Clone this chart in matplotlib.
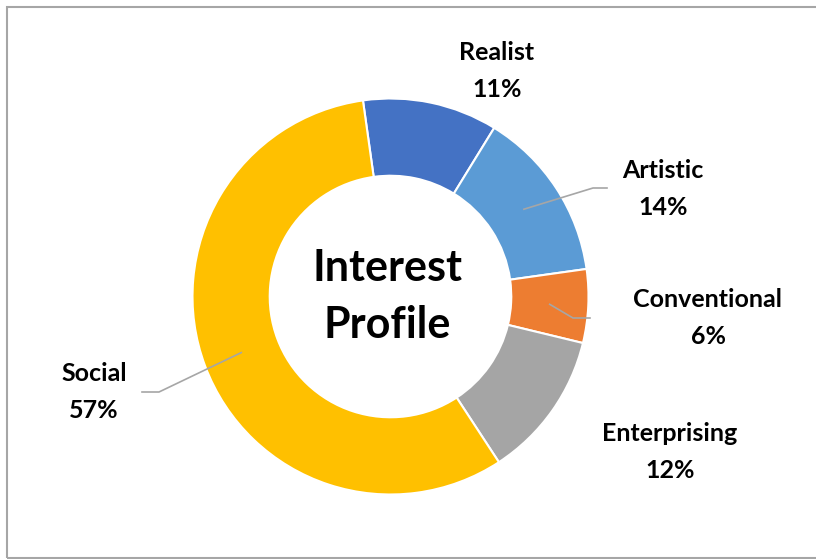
import numpy as np
import matplotlib.pyplot as plt
from matplotlib.patches import Rectangle

categories = ["Realist", "Artistic", "Conventional", "Enterprising", "Social"]
shares = [11, 14, 6, 12, 57]
colors = ["#4472C4", "#5B9BD5", "#ED7D31", "#A5A5A5", "#FFC000"]

W, H = 816, 559
center = (390.5, H - 296.5)
radius = 198
ring = 0.39

# label block centres (pixel, y down) and leader elbows
label_pos = {
    "Realist": (497, 71),
    "Artistic": (663, 189),
    "Conventional": (708, 318),
    "Enterprising": (670, 452),
    "Social": (94, 392),
}
leaders = {
    "Artistic": [(593, 188), (607, 188)],
    "Conventional": [(573, 318), (590, 318)],
    "Social": [(159, 392), (142, 392)],
}

plt.rcParams['font.family'] = ['Lato', 'DejaVu Sans']

fig = plt.figure(figsize=(W / 100, H / 100), dpi=100)
ax = fig.add_axes([0, 0, 1, 1])

ax.add_patch(Rectangle((7, H - 558), W, 551, fill=False,
                       edgecolor="#A6A6A6", linewidth=1.5))

wedges, _ = ax.pie(shares, colors=colors, startangle=98, counterclock=False,
                   center=center, radius=radius, frame=True,
                   wedgeprops=dict(width=radius * ring, edgecolor="white",
                                   linewidth=1.5))
ax.set_xlim(0, W)
ax.set_ylim(0, H)
ax.set_aspect('equal')
ax.axis('off')

for w, name, val in zip(wedges, categories, shares):
    x, y = label_pos[name]
    ax.text(x, H - y, f"{name}\n{val}%", ha="center", va="center",
            fontsize=18, fontweight="bold", color="black", linespacing=1.7)
    if name in leaders:
        mid = np.deg2rad((w.theta1 + w.theta2) / 2)
        r = radius * (1 - ring / 2)
        pts = [(center[0] + r * np.cos(mid), center[1] + r * np.sin(mid))]
        pts += [(px, H - py) for px, py in leaders[name]]
        xs, ys = zip(*pts)
        ax.plot(xs, ys, color="#A6A6A6", linewidth=1.2)

ax.text(center[0] - 3, center[1], "Interest\nProfile", ha="center",
        va="center", fontsize=31, fontweight="bold", color="black",
        linespacing=1.5)

fig.savefig("out.png", dpi=100)
